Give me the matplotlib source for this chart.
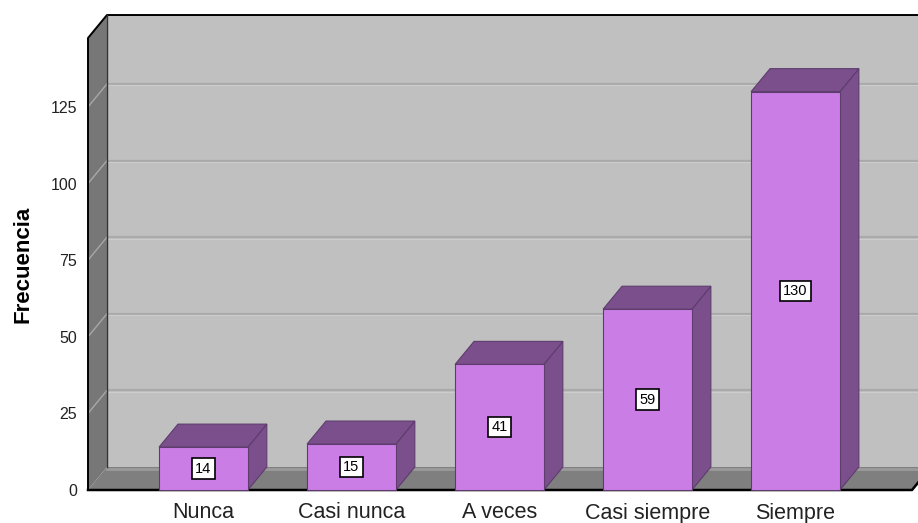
import matplotlib.pyplot as plt
from matplotlib.patches import Polygon, Rectangle
import numpy as np

plt.rcParams['font.family'] = ['Liberation Sans', 'DejaVu Sans']

categories = ['Nunca', 'Casi nunca', 'A veces', 'Casi siempre', 'Siempre']
freq = [14, 15, 41, 59, 130]
yticks = [0, 25, 50, 75, 100, 125]

# depth of the 3d box, in data units (x: categories, y: frequency)
DX = 0.128
DY = 7.5
BAR_W = 0.60
XMIN, XMAX = -0.780, 4.787
YMAX = 147.5

front_col = '#ca7ee5'
dark_col = '#7b4f8c'
edge_col = '#5e3c6e'

fig = plt.figure(figsize=(9.18, 5.23), dpi=100)
ax = fig.add_axes([88 / 918, 33 / 523, 824 / 918, 452 / 523])
ax.set_xlim(XMIN, XMAX)
ax.set_ylim(0, YMAX)
for s in ax.spines.values():
    s.set_visible(False)
ax.patch.set_visible(False)

# back wall
ax.add_patch(Rectangle((XMIN + DX, DY), XMAX - XMIN, YMAX, facecolor='#c0c0c0',
                       edgecolor='none', clip_on=False, zorder=0))
# grid lines on back wall and left wall
for t in yticks[1:]:
    ax.plot([XMIN + DX, XMAX + DX], [t + DY, t + DY], color='#aaaaaa', lw=1.6,
            clip_on=False, zorder=1)
    ax.plot([XMIN + DX, XMAX + DX], [t + DY - 0.5, t + DY - 0.5], color='#cdcdcd', lw=0.8,
            clip_on=False, zorder=1)
# left wall
ax.add_patch(Polygon([(XMIN, 0), (XMIN, YMAX), (XMIN + DX, YMAX + DY), (XMIN + DX, DY)],
                     closed=True, facecolor='#777777', edgecolor='none',
                     clip_on=False, zorder=2))
for t in yticks[1:]:
    ax.plot([XMIN, XMIN + DX], [t, t + DY], color='#a8a8a8', lw=1, clip_on=False, zorder=3)
# floor
ax.add_patch(Polygon([(XMIN, 0), (XMAX, 0), (XMAX + DX, DY), (XMIN + DX, DY)],
                     closed=True, facecolor='#7f7f7f', edgecolor='none',
                     clip_on=False, zorder=2))
ax.plot([XMIN + DX, XMAX + DX], [DY - 0.6, DY - 0.6], color='#9a9a9a', lw=2,
        clip_on=False, zorder=2)
# wall outlines
ax.plot([XMIN, XMIN, XMIN + DX, XMAX + DX], [0, YMAX, YMAX + DY, YMAX + DY],
        color='black', lw=1.4, clip_on=False, zorder=3)
ax.plot([XMIN + DX, XMIN + DX], [DY, YMAX + DY], color='#333333', lw=1,
        clip_on=False, zorder=3)
ax.plot([XMIN, XMAX, XMAX + DX], [0, 0, DY], color='black', lw=1.8,
        clip_on=False, zorder=3)

# bars
x = np.arange(len(categories))
for xi, v in zip(x, freq):
    x0, x1 = xi - BAR_W / 2, xi + BAR_W / 2
    ax.add_patch(Polygon([(x1, 0), (x1, v), (x1 + DX, v + DY), (x1 + DX, DY)],
                         closed=True, facecolor=dark_col, edgecolor=edge_col, lw=0.8,
                         clip_on=False, zorder=4))
    ax.add_patch(Polygon([(x0, v), (x1, v), (x1 + DX, v + DY), (x0 + DX, v + DY)],
                         closed=True, facecolor=dark_col, edgecolor=edge_col, lw=0.8,
                         clip_on=False, zorder=4))
    ax.add_patch(Rectangle((x0, 0), BAR_W, v, facecolor=front_col, edgecolor=edge_col,
                           lw=0.8, clip_on=False, zorder=5))
    ax.text(xi, v / 2, str(v), ha='center', va='center', fontsize=10.5, zorder=6,
            bbox=dict(boxstyle='square,pad=0.22', facecolor='white',
                      edgecolor='black', lw=1.2))

ax.set_xticks(x)
ax.set_xticklabels(categories, fontsize=15.5, color='#222222')
ax.set_yticks(yticks)
ax.set_yticklabels([str(t) for t in yticks], fontsize=11.5, color='#222222')
ax.tick_params(axis='both', length=0)
ax.tick_params(axis='y', pad=8)
ax.tick_params(axis='x', pad=9)
ax.set_ylabel('Frecuencia', fontsize=16, fontweight='bold')
ax.yaxis.set_label_coords(-0.066, 0.5)

fig.savefig('out.png', dpi=100)
